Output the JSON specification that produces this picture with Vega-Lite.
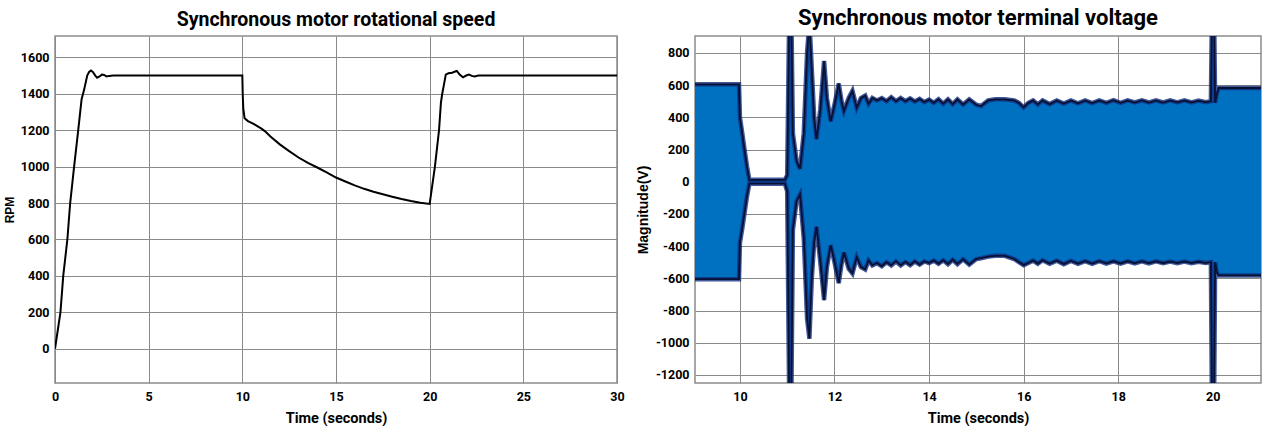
{
  "$schema": "https://vega.github.io/schema/vega-lite/v6.json",
  "padding": {"left": 2, "top": 6, "right": 0, "bottom": 0},
  "autosize": {"type": "pad"},
  "spacing": 10,
  "background": "white",
  "config": {
    "font": "Roboto",
    "view": {"stroke": "#8c8c8c", "strokeWidth": 1.5},
    "axis": {
      "grid": true, "gridColor": "#8a8a8a", "gridWidth": 1, "gridOpacity": 1,
      "domain": false, "ticks": false,
      "labelFont": "Roboto", "labelFontWeight": "bold", "labelFontSize": 12.5, "labelColor": "#000",
      "titleColor": "#000", "titleFontWeight": "bold", "labelFlush": false, "labelOverlap": false
    },
    "title": {"font": "Roboto", "fontWeight": "bold", "color": "#000"}
  },
  "datasets": {
    "speed": [
      {"t": 0, "rpm": 0}, {"t": 0.29, "rpm": 200}, {"t": 0.44, "rpm": 400}, {"t": 0.66, "rpm": 600},
      {"t": 0.81, "rpm": 800}, {"t": 1.02, "rpm": 1000}, {"t": 1.24, "rpm": 1200}, {"t": 1.42, "rpm": 1370},
      {"t": 1.55, "rpm": 1420}, {"t": 1.72, "rpm": 1500}, {"t": 1.82, "rpm": 1520}, {"t": 1.92, "rpm": 1528},
      {"t": 2.02, "rpm": 1520}, {"t": 2.15, "rpm": 1500}, {"t": 2.25, "rpm": 1488}, {"t": 2.38, "rpm": 1495},
      {"t": 2.5, "rpm": 1505}, {"t": 2.62, "rpm": 1503}, {"t": 2.75, "rpm": 1495}, {"t": 2.9, "rpm": 1498},
      {"t": 3.1, "rpm": 1500}, {"t": 10.0, "rpm": 1500}, {"t": 10.02, "rpm": 1400}, {"t": 10.05, "rpm": 1320},
      {"t": 10.12, "rpm": 1265}, {"t": 10.3, "rpm": 1250}, {"t": 10.6, "rpm": 1235}, {"t": 11.0, "rpm": 1210},
      {"t": 11.2, "rpm": 1195}, {"t": 11.5, "rpm": 1165}, {"t": 12, "rpm": 1122}, {"t": 12.5, "rpm": 1085},
      {"t": 13, "rpm": 1050}, {"t": 13.5, "rpm": 1020}, {"t": 14, "rpm": 995}, {"t": 14.5, "rpm": 968},
      {"t": 15, "rpm": 940}, {"t": 15.5, "rpm": 918}, {"t": 16, "rpm": 897}, {"t": 16.5, "rpm": 878},
      {"t": 17, "rpm": 862}, {"t": 17.5, "rpm": 848}, {"t": 18, "rpm": 835}, {"t": 18.5, "rpm": 822},
      {"t": 19, "rpm": 811}, {"t": 19.5, "rpm": 802}, {"t": 20, "rpm": 795}, {"t": 20.28, "rpm": 1000},
      {"t": 20.5, "rpm": 1200}, {"t": 20.6, "rpm": 1350}, {"t": 20.67, "rpm": 1400}, {"t": 20.78, "rpm": 1460},
      {"t": 20.86, "rpm": 1505}, {"t": 21.0, "rpm": 1512}, {"t": 21.2, "rpm": 1515}, {"t": 21.36, "rpm": 1522},
      {"t": 21.45, "rpm": 1525}, {"t": 21.6, "rpm": 1505}, {"t": 21.78, "rpm": 1490}, {"t": 21.95, "rpm": 1500},
      {"t": 22.1, "rpm": 1505}, {"t": 22.25, "rpm": 1498}, {"t": 22.4, "rpm": 1495}, {"t": 22.6, "rpm": 1500},
      {"t": 30, "rpm": 1500}
    ],
    "volt": [
      {"t": 9.0, "hi": 605, "lo": -605}, {"t": 9.98, "hi": 605, "lo": -605}, {"t": 10.0, "hi": 400, "lo": -380},
      {"t": 10.05, "hi": 300, "lo": -290}, {"t": 10.1, "hi": 195, "lo": -190}, {"t": 10.15, "hi": 95, "lo": -90},
      {"t": 10.2, "hi": 12, "lo": -12}, {"t": 10.95, "hi": 12, "lo": -12}, {"t": 11.0, "hi": 40, "lo": -60},
      {"t": 11.04, "hi": 1000, "lo": -1300}, {"t": 11.09, "hi": 1000, "lo": -1300}, {"t": 11.12, "hi": 300, "lo": -300},
      {"t": 11.2, "hi": 130, "lo": -120}, {"t": 11.27, "hi": 80, "lo": -80}, {"t": 11.35, "hi": 300, "lo": -350},
      {"t": 11.42, "hi": 800, "lo": -850}, {"t": 11.47, "hi": 1000, "lo": -975}, {"t": 11.52, "hi": 700, "lo": -600},
      {"t": 11.57, "hi": 400, "lo": -380}, {"t": 11.62, "hi": 265, "lo": -280}, {"t": 11.7, "hi": 450, "lo": -500},
      {"t": 11.78, "hi": 750, "lo": -735}, {"t": 11.84, "hi": 520, "lo": -530}, {"t": 11.92, "hi": 375, "lo": -395},
      {"t": 12.0, "hi": 480, "lo": -500}, {"t": 12.09, "hi": 610, "lo": -630}, {"t": 12.15, "hi": 500, "lo": -510},
      {"t": 12.2, "hi": 440, "lo": -440}, {"t": 12.3, "hi": 520, "lo": -540}, {"t": 12.38, "hi": 565, "lo": -570},
      {"t": 12.47, "hi": 460, "lo": -470}, {"t": 12.56, "hi": 520, "lo": -530}, {"t": 12.65, "hi": 535, "lo": -545},
      {"t": 12.72, "hi": 485, "lo": -490}, {"t": 12.8, "hi": 520, "lo": -520}, {"t": 12.9, "hi": 505, "lo": -505},
      {"t": 13.0, "hi": 520, "lo": -525}, {"t": 13.1, "hi": 500, "lo": -500}, {"t": 13.2, "hi": 525, "lo": -520},
      {"t": 13.3, "hi": 500, "lo": -495}, {"t": 13.4, "hi": 520, "lo": -520}, {"t": 13.5, "hi": 500, "lo": -498},
      {"t": 13.6, "hi": 518, "lo": -518}, {"t": 13.7, "hi": 498, "lo": -495}, {"t": 13.8, "hi": 515, "lo": -515},
      {"t": 13.9, "hi": 495, "lo": -495}, {"t": 14.0, "hi": 510, "lo": -505}, {"t": 14.1, "hi": 490, "lo": -490},
      {"t": 14.2, "hi": 512, "lo": -510}, {"t": 14.3, "hi": 485, "lo": -488}, {"t": 14.4, "hi": 512, "lo": -512},
      {"t": 14.5, "hi": 482, "lo": -485}, {"t": 14.6, "hi": 512, "lo": -512}, {"t": 14.72, "hi": 480, "lo": -482},
      {"t": 14.85, "hi": 512, "lo": -515}, {"t": 15.0, "hi": 478, "lo": -480}, {"t": 15.1, "hi": 470, "lo": -475},
      {"t": 15.25, "hi": 505, "lo": -465}, {"t": 15.4, "hi": 512, "lo": -460}, {"t": 15.6, "hi": 512, "lo": -460},
      {"t": 15.8, "hi": 505, "lo": -480}, {"t": 15.9, "hi": 490, "lo": -500}, {"t": 16.0, "hi": 462, "lo": -518},
      {"t": 16.1, "hi": 490, "lo": -505}, {"t": 16.2, "hi": 505, "lo": -490}, {"t": 16.3, "hi": 480, "lo": -510},
      {"t": 16.4, "hi": 505, "lo": -488}, {"t": 16.55, "hi": 482, "lo": -510}, {"t": 16.7, "hi": 505, "lo": -490},
      {"t": 16.85, "hi": 485, "lo": -512}, {"t": 17.0, "hi": 505, "lo": -492}, {"t": 17.15, "hi": 487, "lo": -510},
      {"t": 17.3, "hi": 505, "lo": -493}, {"t": 17.45, "hi": 488, "lo": -510}, {"t": 17.6, "hi": 505, "lo": -493},
      {"t": 17.75, "hi": 490, "lo": -508}, {"t": 17.9, "hi": 506, "lo": -494}, {"t": 18.05, "hi": 490, "lo": -508},
      {"t": 18.2, "hi": 505, "lo": -494}, {"t": 18.35, "hi": 492, "lo": -507}, {"t": 18.5, "hi": 506, "lo": -495},
      {"t": 18.65, "hi": 492, "lo": -507}, {"t": 18.8, "hi": 505, "lo": -495}, {"t": 18.95, "hi": 492, "lo": -506},
      {"t": 19.1, "hi": 505, "lo": -496}, {"t": 19.25, "hi": 493, "lo": -506}, {"t": 19.4, "hi": 505, "lo": -496},
      {"t": 19.55, "hi": 493, "lo": -506}, {"t": 19.7, "hi": 504, "lo": -497}, {"t": 19.85, "hi": 494, "lo": -505},
      {"t": 19.96, "hi": 500, "lo": -500}, {"t": 19.98, "hi": 1000, "lo": -1300}, {"t": 20.03, "hi": 1000, "lo": -1300},
      {"t": 20.05, "hi": 490, "lo": -500}, {"t": 20.08, "hi": 540, "lo": -560}, {"t": 20.12, "hi": 582, "lo": -582},
      {"t": 21.1, "hi": 582, "lo": -582}
    ]
  },
  "hconcat": [
    {
      "width": 562,
      "height": 347,
      "title": {"text": "Synchronous motor rotational speed", "fontSize": 19.5, "offset": 6},
      "data": {"name": "speed"},
      "mark": {"type": "line", "color": "#000000", "strokeWidth": 2, "clip": true},
      "encoding": {
        "x": {
          "field": "t", "type": "quantitative",
          "scale": {"domain": [0, 30], "nice": false, "zero": false},
          "axis": {"values": [0, 5, 10, 15, 20, 25, 30], "title": "Time (seconds)", "titleFontSize": 14.5, "labelPadding": 7, "titlePadding": 9, "labelOverlap": false}
        },
        "y": {
          "field": "rpm", "type": "quantitative",
          "scale": {"domain": [-188, 1717], "nice": false, "zero": false},
          "axis": {"values": [0, 200, 400, 600, 800, 1000, 1200, 1400, 1600], "format": "d", "title": "RPM", "titleFont": "Liberation Sans", "titleFontSize": 12, "labelPadding": 6, "titlePadding": 4, "labelOverlap": false}
        }
      }
    },
    {
      "width": 566,
      "height": 347,
      "title": {"text": "Synchronous motor terminal voltage", "fontSize": 22, "offset": 6},
      "data": {"name": "volt"},
      "encoding": {
        "x": {
          "field": "t", "type": "quantitative",
          "scale": {"domain": [9.05, 21.02], "nice": false, "zero": false},
          "axis": {"values": [10, 12, 14, 16, 18, 20], "title": "Time (seconds)", "titleFontSize": 14.5, "labelPadding": 7, "titlePadding": 9, "labelOverlap": false}
        }
      },
      "layer": [
        {
          "mark": {"type": "area", "color": "#0070c0", "clip": true},
          "encoding": {
            "y": {
              "field": "hi", "type": "quantitative", "title": "Magnitude(V)",
              "scale": {"domain": [-1250, 905], "nice": false, "zero": false},
              "axis": {"values": [-1200, -1000, -800, -600, -400, -200, 0, 200, 400, 600, 800], "labelOverlap": false, "labelExpr": "datum.value < 0 ? '-' + abs(datum.value) : '' + datum.value", "title": "Magnitude(V)", "titleFont": "Liberation Sans", "titleFontSize": 14, "labelPadding": 6, "titlePadding": 5}
            },
            "y2": {"field": "lo"}
          }
        },
        {
          "transform": [{"fold": ["hi", "lo"], "as": ["side", "v"]}],
          "mark": {"type": "line", "color": "#12307f", "strokeWidth": 4.5, "opacity": 0.8, "clip": true},
          "encoding": {
            "detail": {"field": "side"},
            "y": {
              "field": "v", "type": "quantitative", "title": "Magnitude(V)",
              "scale": {"domain": [-1250, 905], "nice": false, "zero": false},
              "axis": {"values": [-1200, -1000, -800, -600, -400, -200, 0, 200, 400, 600, 800], "labelOverlap": false, "labelExpr": "datum.value < 0 ? '-' + abs(datum.value) : '' + datum.value", "title": "Magnitude(V)", "titleFont": "Liberation Sans", "titleFontSize": 14, "labelPadding": 6, "titlePadding": 5}
            }
          }
        },
        {
          "transform": [{"fold": ["hi", "lo"], "as": ["side", "v"]}],
          "mark": {"type": "line", "color": "#081033", "strokeWidth": 1.8, "clip": true},
          "encoding": {
            "detail": {"field": "side"},
            "y": {
              "field": "v", "type": "quantitative", "title": "Magnitude(V)",
              "scale": {"domain": [-1250, 905], "nice": false, "zero": false},
              "axis": {"values": [-1200, -1000, -800, -600, -400, -200, 0, 200, 400, 600, 800], "labelOverlap": false, "labelExpr": "datum.value < 0 ? '-' + abs(datum.value) : '' + datum.value", "title": "Magnitude(V)", "titleFont": "Liberation Sans", "titleFontSize": 14, "labelPadding": 6, "titlePadding": 5}
            }
          }
        }
      ]
    }
  ]
}
